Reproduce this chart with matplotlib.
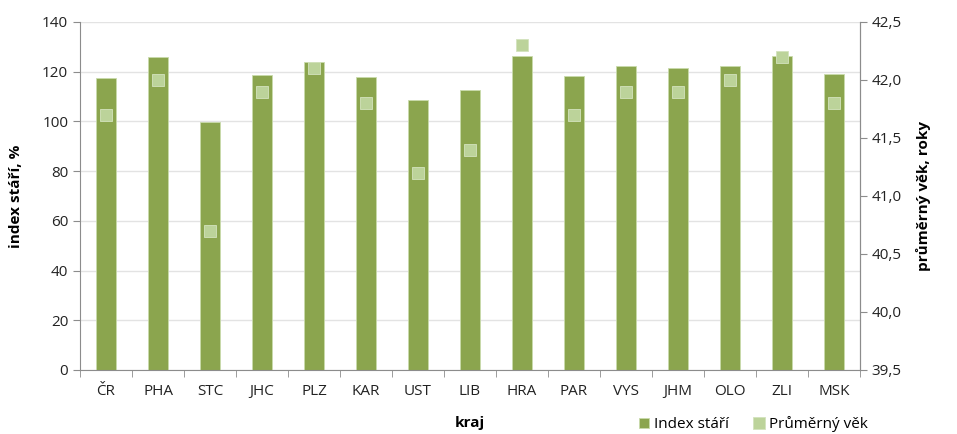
import numpy as np
import matplotlib.pyplot as plt

plt.rcParams['font.family'] = ['Open Sans', 'DejaVu Sans']

# Index stáří a průměrný věk podle krajů
kraje = ["ČR", "PHA", "STC", "JHC", "PLZ", "KAR", "UST", "LIB", "HRA", "PAR",
         "VYS", "JHM", "OLO", "ZLI", "MSK"]
index_stari = [117.5, 125.9, 99.8, 118.6, 123.9, 117.8, 108.6, 112.6, 126.3, 118.3,
               122.2, 121.4, 122.2, 126.3, 119.0]
prumerny_vek = [41.7, 42.0, 40.7, 41.9, 42.1, 41.8, 41.2, 41.4, 42.3, 41.7,
                41.9, 41.9, 42.0, 42.2, 41.8]

barva_sloupce = "#8ba54e"
barva_bodu = "#bcd39a"
seda = "#8c8c8c"

fig = plt.figure(figsize=(9.57, 4.34), dpi=100)
ax = fig.add_axes([0.0836, 0.1475, 0.815, 0.802])
ax2 = ax.twinx()

x = np.arange(len(kraje))
ax.bar(x, index_stari, width=0.4, color=barva_sloupce, edgecolor="#c9dbab",
       linewidth=0.6, zorder=2, label="Index stáří")
ax2.plot(x, prumerny_vek, "s", color=barva_bodu, markersize=9, markeredgecolor="#d3e3bd",
         markeredgewidth=0.6, zorder=3, label="Průměrný věk")

ax.set_xlim(-0.5, len(kraje) - 0.5)
ax.set_ylim(0, 140)
ax.set_yticks(np.arange(0, 141, 20))
ax2.set_ylim(39.5, 42.5)
ax2.set_yticks(np.arange(39.5, 42.51, 0.5))
ax2.set_yticklabels([f"{v:.1f}".replace(".", ",") for v in np.arange(39.5, 42.51, 0.5)])

ax.set_xticks(x)
ax.set_xticklabels(kraje)
ax.set_xticks(np.arange(-0.5, len(kraje), 1), minor=True)
ax.tick_params(axis="x", which="major", length=0, pad=10)
ax.tick_params(axis="x", which="minor", length=5, color=seda)

ax.grid(axis="y", color="#e3e3e3", linewidth=1, zorder=0)
ax.set_axisbelow(True)

for a in (ax, ax2):
    a.spines["top"].set_visible(False)
    for s in ("left", "right", "bottom"):
        a.spines[s].set_color(seda)
    a.tick_params(axis="y", colors=seda, labelcolor="#222222", labelsize=11, length=5)
ax.tick_params(axis="x", labelcolor="#222222", labelsize=11)
ax2.spines["left"].set_visible(False)
ax2.spines["bottom"].set_visible(False)

ax.set_ylabel("index stáří, %", fontsize=11, fontweight="bold", labelpad=14)
ax2.set_ylabel("průměrný věk, roky", fontsize=11, fontweight="bold", labelpad=10)
ax.set_xlabel("kraj", fontsize=11, fontweight="bold", labelpad=12)

h1, l1 = ax.get_legend_handles_labels()
h2, l2 = ax2.get_legend_handles_labels()
fig.legend(h1 + h2, l1 + l2, loc="center left", bbox_to_anchor=(0.664, 0.022), ncol=2,
           frameon=False, fontsize=11, handlelength=0.7, handleheight=0.7,
           columnspacing=1.6, handletextpad=0.3, borderaxespad=0, borderpad=0.2)

fig.savefig("out.png", dpi=100)
